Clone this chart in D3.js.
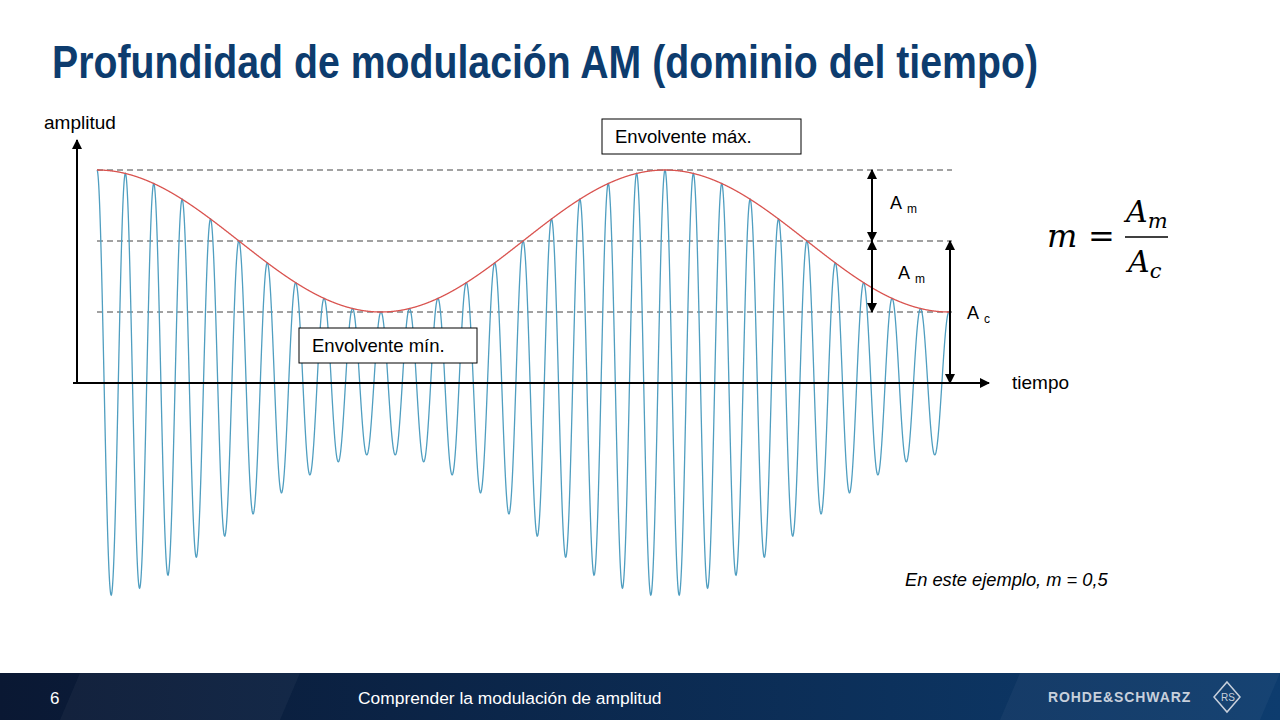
<!DOCTYPE html>
<html><head><meta charset="utf-8">
<script src="https://cdn.jsdelivr.net/npm/d3@7"></script>
<style>body{margin:0;background:#fff}svg{display:block}</style></head>
<body><svg id="c" width="1280" height="720"></svg>
<script>
// Data / parameters
const carrierAmplitude = 1;      // A_c
const modIndex = 0.5;            // m
const carrierCycles = 30;        // carrier cycles across the plot
const modCycles = 1.5;           // modulation cycles across the plot
const levels = [1.5, 1.0, 0.5];  // envelope max, carrier level, envelope min
const sampleCount = 3000;

const svg = d3.select("#c");
const x = d3.scaleLinear().domain([0, modCycles]).range([97, 949]);
const y = d3.scaleLinear().domain([-1.5, 1.5]).range([596, 170]);
const fc = carrierCycles / modCycles;
const ts = d3.range(sampleCount + 1).map(i => i / sampleCount * modCycles);
const env = t => carrierAmplitude * (1 + modIndex * Math.cos(2 * Math.PI * t));
const sig = ts.map(t => [t, env(t) * Math.cos(2 * Math.PI * fc * t)]);
const envPts = ts.map(t => [t, env(t)]);

svg.append("text").attr("x", 52).attr("y", 78).attr("font-family", "Liberation Sans Narrow, Arial Narrow, Liberation Sans, sans-serif")
  .attr("font-weight", "bold").attr("font-size", 46).attr("fill", "#0d3c6e")
  .attr("textLength", 986).attr("lengthAdjust", "spacingAndGlyphs")
  .text("Profundidad de modulación AM (dominio del tiempo)");

const defs = svg.append("defs");
defs.append("marker").attr("id", "ah").attr("viewBox", "0 0 10 10").attr("refX", 9).attr("refY", 5)
  .attr("markerWidth", 10).attr("markerHeight", 10).attr("markerUnits", "userSpaceOnUse").attr("orient", "auto-start-reverse")
  .append("path").attr("d", "M0,0L10,5L0,10z").attr("fill", "#000");

svg.selectAll(".lvl").data(levels).join("line")
  .attr("x1", 97).attr("x2", 952).attr("y1", d => y(d)).attr("y2", d => y(d))
  .attr("stroke", "#444").attr("stroke-width", 1).attr("stroke-dasharray", "6,4");

const line = d3.line().x(d => x(d[0])).y(d => y(d[1]));
svg.append("path").attr("d", line(sig)).attr("fill", "none").attr("stroke", "#4f9ec0").attr("stroke-width", 1.3);
svg.append("path").attr("d", line(envPts)).attr("fill", "none").attr("stroke", "#d9534f").attr("stroke-width", 1.3);

svg.append("line").attr("x1", 77).attr("x2", 77).attr("y1", y(0)).attr("y2", 140).attr("stroke", "#000").attr("stroke-width", 2).attr("marker-end", "url(#ah)");
svg.append("line").attr("x1", 73).attr("x2", 989).attr("y1", y(0)).attr("y2", y(0)).attr("stroke", "#000").attr("stroke-width", 2).attr("marker-end", "url(#ah)");
const lab = (t, xx, yy, fs = 19) => svg.append("text").attr("x", xx).attr("y", yy).attr("font-family", "Liberation Sans, Arial, sans-serif").attr("font-size", fs).text(t);
lab("amplitud", 44, 129);
lab("tiempo", 1012, 389);

const dbl = (xx, a, b) => svg.append("line").attr("x1", xx).attr("x2", xx).attr("y1", y(a)).attr("y2", y(b))
  .attr("stroke", "#000").attr("stroke-width", 2).attr("marker-start", "url(#ah)").attr("marker-end", "url(#ah)");
dbl(872, levels[0], levels[1]);
dbl(872, levels[1], levels[2]);
dbl(950, levels[1], 0);
const sub = (main, s, xx, yy) => { const t = lab(main, xx, yy, 18); t.append("tspan").attr("dx", 5).attr("dy", 4).attr("font-size", 12).text(s); };
sub("A", "m", 890, 209);
sub("A", "m", 898, 279);
sub("A", "c", 967, 319);

const box = (t, x0, y0, w, h) => { svg.append("rect").attr("x", x0).attr("y", y0).attr("width", w).attr("height", h).attr("fill", "#fff").attr("stroke", "#000").attr("stroke-width", 1);
  lab(t, x0 + 13, y0 + 24, 18.5); };
box("Envolvente máx.", 602, 119, 199, 35);
box("Envolvente mín.", 299, 328, 178, 35);

const f = svg.append("g").attr("font-family", "DejaVu Serif, Liberation Serif, serif").attr("font-style", "italic");
f.append("text").attr("x", 1047).attr("y", 247).attr("font-size", 32).text("m");
f.append("text").attr("x", 1088).attr("y", 247).attr("font-size", 32).attr("font-style", "normal").text("=");
f.append("text").attr("x", 1126).attr("y", 222).attr("font-size", 30).text("A").append("tspan").attr("font-size", 21).attr("dy", 6).text("m");
svg.append("line").attr("x1", 1125).attr("x2", 1168).attr("y1", 237).attr("y2", 237).attr("stroke", "#000").attr("stroke-width", 1.5);
f.append("text").attr("x", 1128).attr("y", 272).attr("font-size", 30).text("A").append("tspan").attr("font-size", 21).attr("dy", 6).text("c");

svg.append("text").attr("x", 905).attr("y", 586).attr("font-family", "Liberation Sans, Arial, sans-serif").attr("font-style", "italic").attr("font-size", 18.3).text("En este ejemplo, m = 0,5");

const g = defs.append("linearGradient").attr("id", "fg");
g.append("stop").attr("offset", "0").attr("stop-color", "#0a1833");
g.append("stop").attr("offset", "1").attr("stop-color", "#0d3c6e");
svg.append("rect").attr("x", 0).attr("y", 673).attr("width", 1280).attr("height", 47).attr("fill", "url(#fg)");
[[60, 300], [1000, 1280]].forEach(([a, b]) => svg.append("path").attr("d", `M${a + 20},673L${b},673L${b - 20},720L${a},720z`).attr("fill", "#fff").attr("opacity", 0.04));
svg.append("text").attr("x", 50).attr("y", 704).attr("fill", "#fff").attr("font-family", "Liberation Sans, Arial, sans-serif").attr("font-size", 17).text("6");
svg.append("text").attr("x", 358).attr("y", 704).attr("fill", "#fff").attr("font-family", "Liberation Sans, Arial, sans-serif").attr("font-size", 17.4).text("Comprender la modulación de amplitud");
svg.append("text").attr("x", 1048).attr("y", 702).attr("fill", "#c8d0dc").attr("font-family", "Liberation Sans, Arial, sans-serif").attr("font-weight", "bold").attr("font-size", 14).attr("letter-spacing", 0.9).text("ROHDE&SCHWARZ");
svg.append("path").attr("d", "M1227,682L1240,697L1227,712L1214,697z").attr("fill", "none").attr("stroke", "#c8d0dc").attr("stroke-width", 1.5);
svg.append("text").attr("x", 1221).attr("y", 701).attr("fill", "#c8d0dc").attr("font-family", "Liberation Sans, sans-serif").attr("font-size", 10).text("RS");
</script></body></html>
